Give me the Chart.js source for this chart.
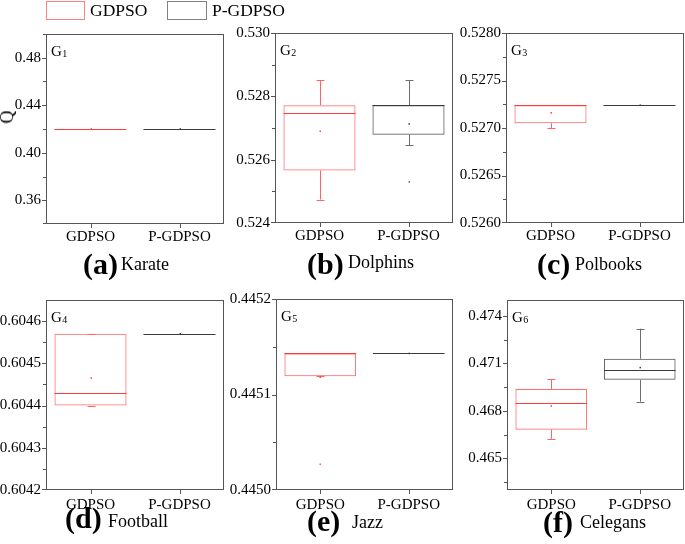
<!DOCTYPE html>
<html><head><meta charset="utf-8">
<script src="https://cdn.jsdelivr.net/npm/chart.js@4.4.1/dist/chart.umd.min.js"></script>
<style>
html,body{margin:0;padding:0;background:#fff;}
#fig{position:relative;width:685px;height:544px;overflow:hidden;font-family:"Liberation Serif","Times New Roman",serif;color:#000;}
.cv{position:absolute;}
.t{position:absolute;white-space:nowrap;line-height:1;}
.sw{position:absolute;box-sizing:border-box;}
</style></head><body><div id="fig"></div>
<script>
// ---------- DATA ----------
const categories = ['GDPSO', 'P-GDPSO'];
const networkNames = ['Karate', 'Dolphins', 'Polbooks', 'Football', 'Jazz', 'Celegans'];
const panelLetters = ['a', 'b', 'c', 'd', 'e', 'f'];

// each box: [lower whisker, Q1, median, Q3, upper whisker, mean]
const karateGDPSO    = [0.42, 0.42, 0.42, 0.42, 0.42, 0.42];
const karatePGDPSO   = [0.42, 0.42, 0.42, 0.42, 0.42, 0.42];
const dolphinsGDPSO  = [0.52474, 0.52566, 0.52748, 0.52772, 0.52851, 0.52690];
const dolphinsPGDPSO = [0.52645, 0.52679, 0.52772, 0.52772, 0.52851, 0.52713];
const polbooksGDPSO  = [0.52700, 0.52705, 0.52724, 0.52724, 0.52724, 0.52716];
const polbooksPGDPSO = [0.52724, 0.52724, 0.52724, 0.52724, 0.52724, 0.52724];
const footballGDPSO  = [0.60440, 0.60440, 0.60443, 0.60457, 0.60457, 0.604465];
const footballPGDPSO = [0.60457, 0.60457, 0.60457, 0.60457, 0.60457, 0.60457];
const jazzGDPSO      = [0.445119, 0.445119, 0.445143, 0.445143, 0.445143, 0.445118];
const jazzPGDPSO     = [0.445143, 0.445143, 0.445143, 0.445143, 0.445143, 0.445143];
const celegansGDPSO  = [0.46623, 0.46681, 0.46850, 0.46938, 0.46998, 0.46831];
const celegansPGDPSO = [0.46858, 0.46996, 0.47060, 0.47129, 0.47319, 0.47073];

// outliers
const dolphinsPGDPSOOutliers = [0.52530];
const jazzGDPSOOutliers = [0.445027];
const noOutliers = [];

// y axis ranges and ticks
const karateRange = [0.34, 0.50];
const karateMajor = [0.36, 0.40, 0.44, 0.48];
const karateMinor = [0.34, 0.38, 0.42, 0.46, 0.50];
const dolphinsRange = [0.524, 0.530];
const dolphinsMajor = [0.524, 0.526, 0.528, 0.530];
const dolphinsMinor = [0.525, 0.527, 0.529];
const polbooksRange = [0.5260, 0.5280];
const polbooksMajor = [0.5260, 0.5265, 0.5270, 0.5275, 0.5280];
const polbooksMinor = [0.52625, 0.52675, 0.52725, 0.52775];
const footballRange = [0.6042, 0.60465];
const footballMajor = [0.6042, 0.6043, 0.6044, 0.6045, 0.6046];
const footballMinor = [0.60425, 0.60435, 0.60445, 0.60455];
const jazzRange = [0.4450, 0.4452];
const jazzMajor = [0.4450, 0.4451, 0.4452];
const jazzMinor = [0.44505, 0.44515];
const celegansRange = [0.463, 0.475];
const celegansMajor = [0.465, 0.468, 0.471, 0.474];
const celegansMinor = [0.4635, 0.4665, 0.4695, 0.4725];

const tickDecimals = [2, 3, 4, 4, 4, 3];

// ---------- LAYOUT / STYLE ----------
const panelRects = [ // [left, top, right, bottom] of plot frames
  [46, 32, 224, 224], [275, 31, 453, 223], [506, 31, 684, 223],
  [46, 298, 224, 490], [276, 297, 453, 490], [507, 298, 684, 490]
];
const panels = [
  {boxes:[karateGDPSO, karatePGDPSO], out:[noOutliers, noOutliers], range:karateRange, major:karateMajor, minor:karateMinor},
  {boxes:[dolphinsGDPSO, dolphinsPGDPSO], out:[noOutliers, dolphinsPGDPSOOutliers], range:dolphinsRange, major:dolphinsMajor, minor:dolphinsMinor},
  {boxes:[polbooksGDPSO, polbooksPGDPSO], out:[noOutliers, noOutliers], range:polbooksRange, major:polbooksMajor, minor:polbooksMinor},
  {boxes:[footballGDPSO, footballPGDPSO], out:[noOutliers, noOutliers], range:footballRange, major:footballMajor, minor:footballMinor},
  {boxes:[jazzGDPSO, jazzPGDPSO], out:[jazzGDPSOOutliers, noOutliers], range:jazzRange, major:jazzMajor, minor:jazzMinor},
  {boxes:[celegansGDPSO, celegansPGDPSO], out:[noOutliers, noOutliers], range:celegansRange, major:celegansMajor, minor:celegansMinor}
];
const boxBorder = ['rgb(255,110,110)', 'rgb(90,90,90)'];
const lineCol   = ['rgb(255,60,60)', 'rgb(60,60,60)'];
const whiskCol  = ['rgb(255,100,100)', 'rgb(110,110,110)'];
const frameCol = '#555';
const FONT = '"Liberation Serif", "Times New Roman", serif';

const fig = document.getElementById('fig');

const boxPlugin = {
  id: 'boxplot',
  afterDatasetsDraw(chart) {
    const k = +chart.canvas.dataset.k;
    const p = panels[k];
    const {ctx, scales: {x, y}} = chart;
    const meta = chart.getDatasetMeta(0);
    ctx.save();
    p.boxes.forEach((s, i) => {
      const bar = meta.data[i];
      const cx = Math.round(x.getPixelForValue(i)) + 0.5;
      const w = bar.width;
      const py = v => y.getPixelForValue(v);
      const cap = 4;
      ctx.lineWidth = 1;
      ctx.strokeStyle = whiskCol[i];
      ctx.beginPath();
      ctx.moveTo(cx, py(s[3])); ctx.lineTo(cx, py(s[4]));
      ctx.moveTo(cx - cap, Math.round(py(s[4])) + 0.5); ctx.lineTo(cx + cap, Math.round(py(s[4])) + 0.5);
      ctx.moveTo(cx, py(s[1])); ctx.lineTo(cx, py(s[0]));
      ctx.moveTo(cx - cap, Math.round(py(s[0])) + 0.5); ctx.lineTo(cx + cap, Math.round(py(s[0])) + 0.5);
      ctx.stroke();
      ctx.strokeStyle = lineCol[i];
      ctx.beginPath();
      const my = Math.round(py(s[2])) + 0.5;
      ctx.moveTo(bar.x - w / 2, my); ctx.lineTo(bar.x + w / 2, my);
      ctx.stroke();
      ctx.fillStyle = lineCol[i];
      ctx.fillRect(cx - 1, py(s[5]) - 0.75, 1.5, 1.5);
      ctx.fillStyle = whiskCol[i];
      p.out[i].forEach(v => { ctx.fillRect(cx - 1, py(v) - 0.75, 1.6, 1.6); });
    });
    ctx.restore();
  },
  afterDraw(chart) {
    const k = +chart.canvas.dataset.k;
    const p = panels[k];
    const {ctx, chartArea: a, scales: {x, y}} = chart;
    ctx.save();
    ctx.strokeStyle = frameCol;
    ctx.lineWidth = 1;
    ctx.strokeRect(a.left + 0.5, a.top + 0.5, a.right - a.left - 1, a.bottom - a.top - 1);
    ctx.beginPath();
    y.ticks.forEach(t => {
      const isMajor = p.major.some(m => Math.abs(m - t.value) < 1e-9);
      const yy = Math.min(Math.max(Math.round(y.getPixelForValue(t.value)), a.top), a.bottom - 1) + 0.5;
      const len = isMajor ? 4 : 3;
      ctx.moveTo(a.left, yy); ctx.lineTo(a.left - len, yy);
    });
    categories.forEach((c, i) => {
      const xx = Math.round(x.getPixelForValue(i)) + 0.5;
      ctx.moveTo(xx, a.bottom); ctx.lineTo(xx, a.bottom + 4);
    });
    ctx.stroke();
    ctx.fillStyle = '#000';
    ctx.textBaseline = 'alphabetic';
    ctx.font = '15px ' + FONT;
    ctx.fillText('G', a.left + 5, a.top + 22);
    const gw = ctx.measureText('G').width;
    ctx.font = '10px ' + FONT;
    ctx.fillText(String(k + 1), a.left + 5 + gw + 0.5, a.top + 23);
    ctx.restore();
  }
};

const YW = [46, 50, 50, 46, 50, 50];
const XPAD = [4, 4, 4, 6, 6, 6];
const PADT = 12, PADR = 1, XH = 28;

panels.forEach((p, k) => {
  const [L, T, R, B] = panelRects[k];
  const yw = YW[k];
  const W = yw + (R - L) + PADR;
  const H = PADT + (B - T) + XH;
  const wrap = document.createElement('div');
  wrap.className = 'cv';
  wrap.style.left = (L - yw) + 'px';
  wrap.style.top = (T - PADT) + 'px';
  const cv = document.createElement('canvas');
  cv.dataset.k = k;
  cv.width = W; cv.height = H;
  cv.style.width = W + 'px'; cv.style.height = H + 'px';
  wrap.appendChild(cv);
  fig.appendChild(wrap);
  const allTicks = p.major.concat(p.minor).sort((a, b) => a - b);
  const dec = tickDecimals[k];
  new Chart(cv, {
    type: 'bar',
    data: {
      labels: categories,
      datasets: [{
        label: networkNames[k],
        data: p.boxes.map(s => [s[1], s[3]]),
        backgroundColor: 'rgba(255,255,255,0)',
        borderColor: boxBorder,
        borderWidth: 1,
        borderSkipped: false,
        barPercentage: 0.81,
        categoryPercentage: 1
      }]
    },
    options: {
      responsive: false,
      animation: false,
      devicePixelRatio: 1,
      layout: {padding: {top: PADT, right: PADR, left: 0, bottom: 0}},
      plugins: {legend: {display: false}, tooltip: {enabled: false}},
      scales: {
        x: {
          grid: {display: false, drawTicks: false},
          border: {display: false},
          ticks: {color: '#000', font: {family: FONT, size: 15}, padding: XPAD[k], maxRotation: 0, autoSkip: false},
          afterFit: s => { s.height = XH; }
        },
        y: {
          min: p.range[0], max: p.range[1],
          grid: {display: false, drawTicks: false},
          border: {display: false},
          afterBuildTicks: s => { s.ticks = allTicks.map(v => ({value: v})); },
          ticks: {
            color: '#000', font: {family: FONT, size: 15}, padding: 5, autoSkip: false,
            callback: v => p.major.some(m => Math.abs(m - v) < 1e-9) ? Number(v).toFixed(dec) : ''
          },
          afterFit: s => { s.width = yw; }
        }
      }
    },
    plugins: [boxPlugin]
  });
});

// ---------- TEXT ----------
function addText(html, x, baseline, size, bold) {
  const d = document.createElement('div');
  d.className = 't';
  d.style.left = x + 'px';
  d.style.top = (baseline - 0.8375 * size) + 'px';
  d.style.fontSize = size + 'px';
  if (bold) d.style.fontWeight = 'bold';
  d.innerHTML = html;
  fig.appendChild(d);
}
const sw1 = document.createElement('div'); sw1.className = 'sw';
Object.assign(sw1.style, {left: '46px', top: '1px', width: '39px', height: '19px', border: '1px solid rgb(255,130,130)'});
fig.appendChild(sw1);
const sw2 = document.createElement('div'); sw2.className = 'sw';
Object.assign(sw2.style, {left: '167px', top: '1px', width: '40px', height: '19px', border: '1px solid rgb(130,130,130)'});
fig.appendChild(sw2);
addText(categories[0], 90, 16.7, 17.5, false);
addText(categories[1], 212, 16.7, 17.5, false);

const q = document.createElement('div');
q.className = 't';
Object.assign(q.style, {left: '7px', top: '117px', fontSize: '18px', transform: 'translate(-50%,-50%) rotate(-90deg)'});
q.textContent = 'Q';
fig.appendChild(q);

const capLetterX = [83, 307, 537, 65, 307, 543];
const capLetterBase = [274, 274, 274, 528, 531, 532];
const capNameX = [121, 348, 575, 108, 352, 580];
const capNameBase = [270, 268, 270, 527, 528, 528];
panelLetters.forEach((l, k) => {
  addText('(' + l + ')', capLetterX[k], capLetterBase[k], 30, true);
  addText(networkNames[k], capNameX[k], capNameBase[k], 18, false);
});
</script></body></html>
